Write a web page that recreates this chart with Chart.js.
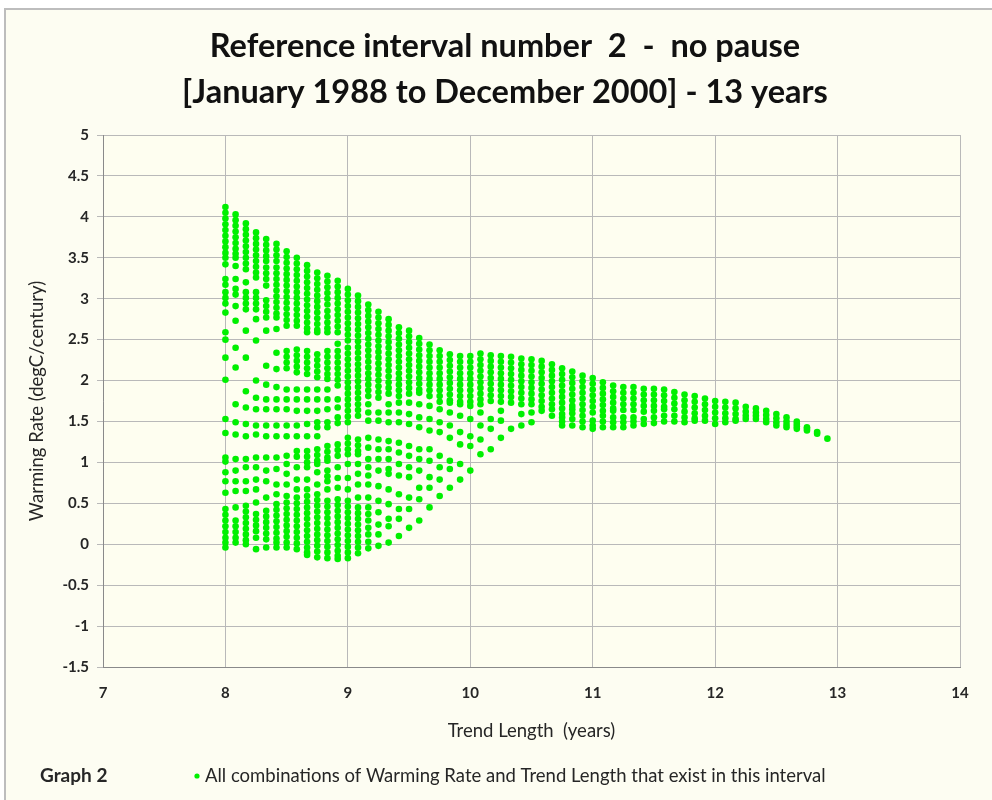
<!DOCTYPE html>
<html>
<head>
<meta charset="utf-8">
<title>Reference interval number 2 - no pause</title>
<script src="https://cdn.jsdelivr.net/npm/chart.js@4.4.1/dist/chart.umd.min.js"></script>
<style>
  html, body { margin: 0; padding: 0; background: #ffffff; }
  #wrap { width: 992px; height: 800px; }
</style>
</head>
<body>
<div id="wrap"><canvas id="chart" width="992" height="800"></canvas></div>
<script>
// trend lengths in years, one per monthly column
const trendLengths = [8, 8.083, 8.167, 8.25, 8.333, 8.417, 8.5, 8.583, 8.667, 8.75, 8.833, 8.917,
  9, 9.083, 9.167, 9.25, 9.333, 9.417, 9.5, 9.583, 9.667, 9.75, 9.833, 9.917,
  10, 10.083, 10.167, 10.25, 10.333, 10.417, 10.5, 10.583, 10.667, 10.75, 10.833, 10.917,
  11, 11.083, 11.167, 11.25, 11.333, 11.417, 11.5, 11.583, 11.667, 11.75, 11.833, 11.917,
  12, 12.083, 12.167, 12.25, 12.333, 12.417, 12.5, 12.583, 12.667, 12.75, 12.833, 12.917];

// warming rates (degC/century), one list per column
const ratesYear8 = [
  [4.12,4.05,3.98,3.91,3.84,3.77,3.70,3.63,3.56,3.50,3.42,3.24,3.17,3.08,3.01,2.94,2.83,2.59,2.50,2.28,2.01,1.53,1.36,1.06,1.01,0.88,0.77,0.63,0.43,0.36,0.29,0.22,0.15,0.08,0.02,-0.04],
  [4.03,3.96,3.89,3.82,3.75,3.68,3.61,3.55,3.50,3.40,3.24,3.12,3.05,2.91,2.73,2.40,2.16,1.71,1.49,1.34,1.04,0.90,0.77,0.65,0.45,0.29,0.22,0.15,0.08,0.02],
  [3.92,3.85,3.78,3.71,3.64,3.57,3.50,3.43,3.36,3.20,3.08,3.01,2.94,2.87,2.61,2.28,1.87,1.67,1.47,1.32,1.04,0.94,0.77,0.65,0.47,0.40,0.33,0.26,0.19,0.12,0.05,0.0],
  [3.81,3.74,3.67,3.60,3.53,3.46,3.39,3.32,3.26,3.08,3.01,2.94,2.87,2.75,2.49,2.00,1.79,1.65,1.45,1.34,1.06,0.94,0.79,0.67,0.51,0.37,0.30,0.23,0.16,0.08,-0.06],
  [3.73,3.66,3.59,3.52,3.46,3.38,3.31,3.24,3.16,2.98,2.91,2.84,2.77,2.61,2.18,1.95,1.77,1.65,1.45,1.32,1.06,0.90,0.77,0.57,0.41,0.34,0.27,0.20,0.13,0.06,-0.04],
  [3.67,3.60,3.53,3.46,3.38,3.31,3.24,3.17,3.10,3.03,2.96,2.89,2.82,2.77,2.63,2.34,2.14,1.92,1.77,1.65,1.45,1.32,1.06,0.92,0.73,0.61,0.49,0.42,0.35,0.28,0.21,0.14,0.07,0.02,-0.04],
  [3.58,3.51,3.44,3.37,3.30,3.23,3.16,3.09,3.02,2.95,2.88,2.81,2.74,2.67,2.36,2.29,2.22,2.15,1.89,1.77,1.65,1.45,1.32,1.08,0.98,0.86,0.73,0.59,0.51,0.44,0.37,0.30,0.23,0.16,0.09,0.02,-0.04],
  [3.50,3.43,3.36,3.29,3.22,3.15,3.08,3.01,2.94,2.87,2.80,2.73,2.67,2.38,2.31,2.24,2.17,2.10,1.89,1.77,1.63,1.45,1.32,1.14,1.07,0.94,0.79,0.67,0.57,0.50,0.43,0.36,0.29,0.22,0.15,0.08,0.01,-0.06],
  [3.41,3.34,3.27,3.20,3.13,3.06,2.99,2.92,2.85,2.78,2.71,2.64,2.59,2.36,2.29,2.22,2.15,2.08,1.89,1.77,1.63,1.47,1.32,1.14,1.07,1.00,0.94,0.79,0.67,0.59,0.52,0.45,0.38,0.31,0.24,0.17,0.10,0.03,-0.04,-0.10,-0.13],
  [3.32,3.25,3.18,3.11,3.04,2.97,2.90,2.83,2.76,2.69,2.62,2.59,2.32,2.25,2.18,2.11,2.04,1.89,1.77,1.63,1.49,1.43,1.32,1.16,1.09,1.02,0.98,0.88,0.73,0.61,0.54,0.47,0.40,0.33,0.26,0.19,0.12,0.05,-0.02,-0.09,-0.16],
  [3.28,3.21,3.14,3.07,3.00,2.93,2.85,2.78,2.71,2.64,2.59,2.36,2.29,2.22,2.15,2.08,2.02,1.89,1.77,1.65,1.49,1.43,1.20,1.13,1.06,1.02,0.90,0.83,0.77,0.67,0.53,0.46,0.39,0.32,0.25,0.18,0.11,0.04,-0.03,-0.10,-0.17],
  [3.22,3.15,3.08,3.01,2.94,2.87,2.80,2.73,2.66,2.59,2.45,2.36,2.29,2.22,2.15,2.08,2.01,1.94,1.77,1.67,1.55,1.48,1.22,1.15,1.08,0.94,0.81,0.69,0.55,0.48,0.41,0.34,0.27,0.20,0.13,0.06,-0.01,-0.08,-0.14,-0.18]
];
const ratesYear9 = [
  [3.12,3.05,2.98,2.91,2.84,2.77,2.70,2.63,2.56,2.49,2.40,2.33,2.26,2.19,2.12,2.05,1.98,1.91,1.84,1.77,1.70,1.63,1.56,1.49,1.30,1.23,1.16,1.10,0.98,0.81,0.67,0.53,0.46,0.39,0.32,0.25,0.18,0.11,0.04,-0.03,-0.10,-0.17],
  [3.04,2.97,2.90,2.83,2.76,2.69,2.62,2.55,2.48,2.41,2.34,2.27,2.20,2.13,2.06,1.99,1.92,1.85,1.78,1.71,1.64,1.57,1.28,1.21,1.14,1.10,0.98,0.86,0.73,0.57,0.45,0.38,0.31,0.24,0.17,0.10,0.03,-0.04,-0.11],
  [2.93,2.86,2.79,2.72,2.65,2.58,2.51,2.44,2.37,2.30,2.23,2.16,2.09,2.02,1.95,1.88,1.81,1.71,1.61,1.51,1.30,1.18,1.04,0.94,0.84,0.73,0.57,0.45,0.37,0.29,0.20,0.12,0.03,-0.05],
  [2.84,2.77,2.70,2.63,2.56,2.49,2.42,2.35,2.28,2.21,2.14,2.07,2.00,1.93,1.86,1.79,1.61,1.51,1.28,1.16,1.04,0.90,0.71,0.53,0.39,0.24,0.12,-0.02],
  [2.75,2.68,2.61,2.54,2.47,2.40,2.33,2.26,2.19,2.12,2.05,1.98,1.91,1.84,1.71,1.61,1.49,1.26,1.16,1.04,0.92,0.86,0.67,0.49,0.31,0.22,0.02],
  [2.65,2.58,2.51,2.44,2.37,2.30,2.23,2.16,2.09,2.02,1.95,1.88,1.81,1.73,1.61,1.49,1.24,1.12,0.98,0.84,0.61,0.43,0.31,0.10],
  [2.61,2.54,2.47,2.40,2.33,2.26,2.19,2.12,2.05,1.98,1.91,1.84,1.73,1.59,1.47,1.20,1.08,0.94,0.82,0.57,0.43,0.20],
  [2.52,2.45,2.38,2.31,2.24,2.17,2.10,2.03,1.96,1.89,1.85,1.71,1.55,1.43,1.16,1.04,0.90,0.69,0.55,0.29],
  [2.44,2.37,2.30,2.23,2.16,2.09,2.02,1.95,1.88,1.81,1.69,1.53,1.39,1.16,1.02,0.82,0.69,0.45],
  [2.37,2.30,2.23,2.16,2.09,2.02,1.95,1.88,1.81,1.74,1.65,1.49,1.37,1.08,0.94,0.79,0.59],
  [2.32,2.25,2.18,2.11,2.04,1.97,1.90,1.83,1.76,1.73,1.61,1.45,1.30,1.02,0.92,0.69],
  [2.30,2.23,2.16,2.09,2.02,1.95,1.88,1.81,1.74,1.71,1.57,1.37,1.22,0.98,0.79]
];
const ratesYear10 = [
  [2.30,2.23,2.16,2.09,2.02,1.95,1.88,1.81,1.74,1.69,1.53,1.32,1.20,0.90],
  [2.33,2.26,2.19,2.12,2.05,1.98,1.91,1.84,1.77,1.71,1.61,1.45,1.28,1.10],
  [2.31,2.24,2.17,2.10,2.03,1.96,1.89,1.82,1.75,1.53,1.41,1.16],
  [2.30,2.23,2.16,2.09,2.02,1.95,1.88,1.81,1.74,1.63,1.51,1.30],
  [2.29,2.22,2.15,2.08,2.01,1.94,1.87,1.80,1.73,1.41],
  [2.27,2.20,2.13,2.06,1.99,1.92,1.85,1.78,1.71,1.59,1.45],
  [2.26,2.19,2.12,2.05,1.98,1.91,1.84,1.77,1.71,1.61,1.49],
  [2.24,2.17,2.10,2.03,1.96,1.89,1.82,1.75,1.68,1.63],
  [2.20,2.13,2.06,1.99,1.92,1.85,1.78,1.71,1.65,1.57],
  [2.15,2.08,2.01,1.94,1.87,1.80,1.73,1.66,1.59,1.55,1.50,1.45],
  [2.11,2.04,1.97,1.90,1.83,1.76,1.69,1.65,1.60,1.53,1.45],
  [2.06,1.99,1.92,1.85,1.78,1.71,1.64,1.57,1.50,1.43]
];
const ratesYear11 = [
  [2.03,1.96,1.89,1.82,1.75,1.68,1.61,1.51,1.45,1.41],
  [1.98,1.91,1.84,1.77,1.70,1.63,1.57,1.50,1.43],
  [1.94,1.87,1.80,1.73,1.66,1.63,1.55,1.49,1.43],
  [1.92,1.85,1.78,1.71,1.64,1.55,1.49,1.43],
  [1.92,1.85,1.78,1.71,1.64,1.55,1.50,1.45],
  [1.90,1.83,1.76,1.69,1.62,1.53,1.47],
  [1.90,1.83,1.76,1.69,1.63,1.55,1.48],
  [1.89,1.82,1.75,1.68,1.65,1.57,1.50],
  [1.86,1.79,1.72,1.65,1.57,1.50],
  [1.83,1.76,1.69,1.62,1.55,1.49],
  [1.81,1.74,1.67,1.60,1.54,1.51],
  [1.78,1.71,1.64,1.57,1.51]
];
const ratesYear12 = [
  [1.75,1.68,1.61,1.54,1.47],
  [1.74,1.67,1.60,1.54,1.49],
  [1.73,1.66,1.59,1.53,1.51],
  [1.68,1.62,1.57,1.53],
  [1.66,1.61,1.57,1.53],
  [1.63,1.58,1.53,1.49],
  [1.59,1.54,1.49,1.45],
  [1.55,1.50,1.46,1.43],
  [1.50,1.47,1.44,1.41],
  [1.43,1.41,1.39],
  [1.37,1.35],
  [1.29]
];

const titleLines = ['Reference interval number  2  -  no pause', '[January 1988 to December 2000] - 13 years'];
const seriesLabel = 'All combinations of Warming Rate and Trend Length that exist in this interval';
const graphName = 'Graph 2';
const xTitle = 'Trend Length  (years)';
const yTitle = 'Warming Rate (degC/century)';
const seriesColor = '#00f000';

const rateColumns = [...ratesYear8, ...ratesYear9, ...ratesYear10, ...ratesYear11, ...ratesYear12];
const points = [];
rateColumns.forEach((col, i) => {
  col.forEach(r => points.push({ x: trendLengths[i], y: r }));
});

const textColor = '#262626';
const tickFont = { family: 'Lato', size: 15, weight: 'bold' };
const axisTitleFont = { family: 'Lato', size: 18.5 };

// cream page with a grey frame, plus the "Graph 2" key line at the bottom
const pageFrame = {
  id: 'pageFrame',
  beforeDraw(chart) {
    const { ctx, width, height, chartArea: a } = chart;
    ctx.save();
    ctx.fillStyle = '#ffffff';
    ctx.fillRect(0, 0, width, height);
    ctx.fillStyle = '#fdfdf2';
    ctx.fillRect(5, 9, width - 5, height - 9);
    ctx.strokeStyle = '#bdbdbd';
    ctx.lineWidth = 2;
    ctx.beginPath();
    ctx.moveTo(5, height);
    ctx.lineTo(5, 9);
    ctx.lineTo(width, 9);
    ctx.stroke();
    ctx.fillStyle = '#fefef0';
    ctx.fillRect(a.left, a.top, a.right - a.left, a.bottom - a.top);
    ctx.restore();
  },
  afterDraw(chart) {
    const ctx = chart.ctx;
    ctx.save();
    ctx.textBaseline = 'middle';
    ctx.fillStyle = textColor;
    ctx.font = 'bold 19px Lato';
    ctx.fillText(graphName, 40, 776);
    ctx.fillStyle = seriesColor;
    ctx.beginPath();
    ctx.arc(197, 776, 2.6, 0, Math.PI * 2);
    ctx.fill();
    ctx.fillStyle = textColor;
    ctx.font = '18.5px Lato';
    ctx.fillText(seriesLabel, 205, 776);
    ctx.restore();
  }
};

new Chart(document.getElementById('chart'), {
  type: 'scatter',
  data: {
    datasets: [{
      label: seriesLabel,
      data: points,
      backgroundColor: seriesColor,
      borderWidth: 0,
      pointRadius: 3.3,
      pointHoverRadius: 3.3
    }]
  },
  options: {
    responsive: false,
    animation: false,
    devicePixelRatio: 1,
    layout: { padding: { left: 50, right: 32, top: 0, bottom: 53 } },
    plugins: {
      legend: { display: false },
      tooltip: { enabled: false },
      title: {
        display: true,
        text: titleLines,
        color: '#111111',
        font: { family: 'Lato', size: 32.5, weight: 'bold', lineHeight: 1.385 },
        padding: { top: 24.5, bottom: 20.5 }
      }
    },
    scales: {
      x: {
        type: 'linear',
        min: 7,
        max: 14,
        ticks: { stepSize: 1, padding: 17, color: textColor, font: tickFont },
        grid: { color: '#b9b9b9', drawTicks: false },
        border: { color: '#8a8a8a' },
        title: { display: true, text: xTitle, color: textColor, font: axisTitleFont, padding: { top: 0, bottom: 5 } },
        afterFit(scale) { scale.height = 80; }
      },
      y: {
        type: 'linear',
        min: -1.5,
        max: 5,
        ticks: {
          stepSize: 0.5,
          padding: 8,
          color: textColor,
          font: tickFont,
          callback: v => String(Math.round(v * 10) / 10)
        },
        grid: { color: '#b9b9b9', tickLength: 6 },
        border: { color: '#8a8a8a' },
        title: { display: true, text: yTitle, color: textColor, font: axisTitleFont, padding: { top: -24, bottom: 0 } },
        afterFit(scale) { scale.width = 53; }
      }
    }
  },
  plugins: [pageFrame]
});
</script>
</body>
</html>
